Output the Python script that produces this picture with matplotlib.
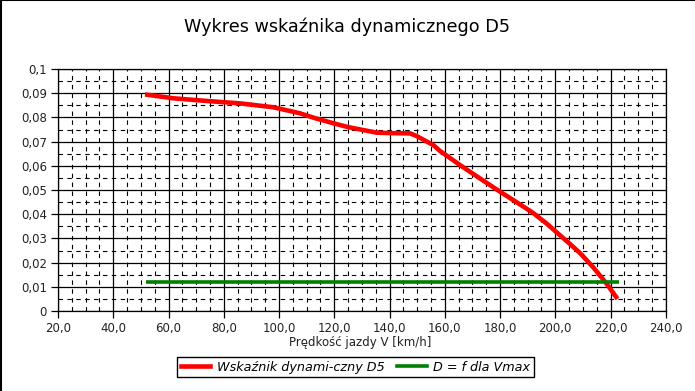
import matplotlib
matplotlib.use("Agg")
import matplotlib.pyplot as plt
from matplotlib.ticker import MultipleLocator, FuncFormatter
from matplotlib.lines import Line2D

# Data
v_d5 = [51.5, 61.7, 73.8, 85.9, 97.9, 107.6, 113.0, 119.6, 125.0, 131.7, 135.3,
        141.0, 147.4, 149.8, 155.8, 158.2, 165.5, 172.7, 180.0, 186.6, 192.0,
        196.8, 201.6, 205.0, 208.9, 213.7, 218.5, 222.5]
d5 = [0.0895, 0.0879, 0.0868, 0.0858, 0.0842, 0.0817, 0.0797, 0.0776, 0.0760,
      0.0745, 0.0737, 0.0735, 0.0734, 0.0723, 0.0686, 0.0662, 0.0603, 0.0548,
      0.0493, 0.0445, 0.0405, 0.0362, 0.0314, 0.0280, 0.0240, 0.0181, 0.0114,
      0.0050]
v_vmax = [51.8, 222.9]
d_vmax = [0.0120, 0.0120]

title = "Wykres wskaźnika dynamicznego D5"
xlabel = "Prędkość jazdy V [km/h]"
label_d5 = "Wskaźnik dynami-czny D5"
label_vmax = "D = f dla Vmax"

fig = plt.figure(figsize=(6.95, 3.91), dpi=100)
ax = fig.add_axes([0.0835, 0.2046, 0.958 - 0.0835, 0.8235 - 0.2046])

ax.plot(v_d5, d5, color="#ff0000", lw=3.3, solid_capstyle="butt",
        solid_joinstyle="round", zorder=3)
ax.plot(v_vmax, d_vmax, color="#008000", lw=2.6, solid_capstyle="butt", zorder=3)

ax.set_xlim(20, 240)
ax.set_ylim(0, 0.1)
ax.xaxis.set_major_locator(MultipleLocator(20))
ax.xaxis.set_minor_locator(MultipleLocator(5))
ax.yaxis.set_major_locator(MultipleLocator(0.01))
ax.yaxis.set_minor_locator(MultipleLocator(0.005))

def yfmt(v, pos):
    s = ("%.2f" % v).rstrip("0").rstrip(".")
    if s == "":
        s = "0"
    return s.replace(".", ",")

def xfmt(v, pos):
    return ("%.1f" % v).replace(".", ",")

ax.yaxis.set_major_formatter(FuncFormatter(yfmt))
ax.xaxis.set_major_formatter(FuncFormatter(xfmt))

ax.grid(which="major", color="black", lw=0.9, ls="-")
ax.grid(which="minor", color="black", lw=0.8, ls=(0, (4, 4)))
ax.tick_params(which="major", direction="out", length=5, width=0.9,
               labelsize=8.5, colors="black", labelcolor="#222222", pad=3)
ax.tick_params(which="minor", length=0)
for s in ax.spines.values():
    s.set_color("black")
    s.set_linewidth(0.9)

fig.text(0.5, 0.931, title, ha="center", va="center", fontsize=12.7, color="black")
fig.text(0.518, 0.124, xlabel, ha="center", va="center", fontsize=8.5, color="#222222")

handles = [Line2D([], [], color="#ff0000", lw=3.3),
           Line2D([], [], color="#008000", lw=2.6)]
leg = fig.legend(handles, [label_d5, label_vmax], loc="center",
                 bbox_to_anchor=(0.5115, 0.061), ncol=2, frameon=True,
                 fancybox=False, edgecolor="black", framealpha=1,
                 prop={"style": "italic", "size": 9.2}, handlelength=2.3,
                 columnspacing=1.0, handletextpad=0.5, borderpad=0.3,
                 borderaxespad=0.0)
leg.get_frame().set_linewidth(1.0)

# partial outer border (top and left) as in the reference
fig.add_artist(Line2D([0, 1], [0.999, 0.999], color="black", lw=1.5, transform=fig.transFigure))
fig.add_artist(Line2D([0.001, 0.001], [0, 1], color="black", lw=1.5, transform=fig.transFigure))

fig.savefig("out.png", dpi=100)
